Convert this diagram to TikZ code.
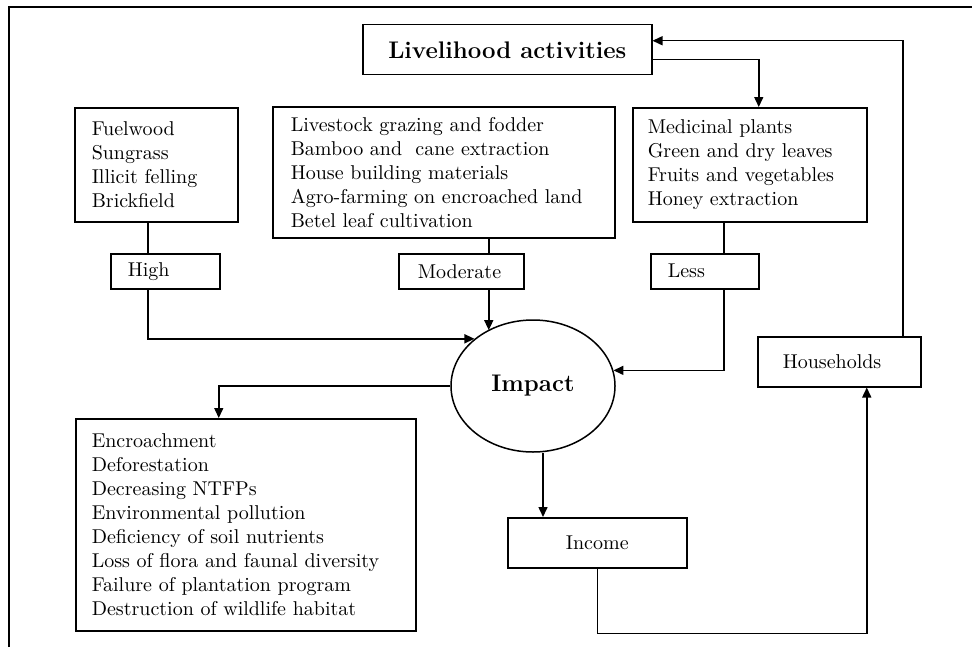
\documentclass[tikz,border=0pt]{standalone}
\usetikzlibrary{shapes.geometric,arrows.meta}

\tikzset{every picture/.style={line width=0.75pt}}
\tikzset{
  listbox/.style={draw, anchor=north west, align=left, inner ysep=0pt},
  tagbox/.style={draw, anchor=north west, align=left, inner ysep=0pt, minimum height=17.5pt},
  arr/.style={-{Triangle[length=5pt,width=4.5pt]}}
}

\begin{document}
\begin{tikzpicture}[x=0.5pt,y=0.5pt,yscale=-1]
\useasboundingbox (0,0) rectangle (972,647);

%Frame
\draw [line width=0.9pt] (9,647) -- (9,7) -- (972,7);

% Text Node
\node [draw, anchor=north west, minimum width=144.5pt, minimum height=25pt, inner sep=0pt, font=\large\bfseries] (live) at (362,24) {Livelihood activities};

% Boxes of activities
\node [listbox, inner xsep=8.5pt, text width=64.5pt, minimum height=57pt] (fuel) at (74,107) {Fuelwood\\Sungrass\\Illicit felling\\Brickfield};
\node [listbox, inner xsep=9pt, text width=153pt, minimum height=65.5pt] (graze) at (272,106) {Livestock grazing and fodder\\Bamboo and\ \ cane extraction\\House building materials\\Agro-farming on encroached land\\Betel leaf cultivation};
\node [listbox, inner xsep=7.5pt, text width=102pt, minimum height=57pt] (plants) at (632,107) {Medicinal plants\\Green and dry leaves\\Fruits and vegetables\\Honey extraction};

% Level boxes
\node [tagbox, inner xsep=8.5pt, text width=37.5pt] (high) at (110,253) {High};
\node [tagbox, inner xsep=9.5pt, text width=43.5pt] (moderate) at (398,253) {Moderate};
\node [tagbox, inner xsep=8.5pt, text width=37pt] (less) at (650,253) {Less};

%Shape: Ellipse
\node [ellipse, draw, minimum width=82pt, minimum height=66pt, inner sep=0pt, font=\large\bfseries] (impact) at (533,386) {Impact};

\node [tagbox, inner xsep=12.5pt, text width=56.5pt, minimum height=25pt] (house) at (757,336) {Households};
\node [draw, anchor=north west, minimum width=89.5pt, minimum height=25pt, inner sep=0pt] (income) at (507,517) {Income};
\node [listbox, inner xsep=8pt, text width=154pt, minimum height=106pt] (effects) at (75,418) {Encroachment\\Deforestation\\Decreasing NTFPs\\Environmental pollution\\Deficiency of soil nutrients\\Loss of flora and faunal diversity\\Failure of plantation program\\Destruction of wildlife habitat};

%Straight Lines
\draw [arr] ([yshift=5pt]live.east) -| ([xshift=4.5pt]plants.north);
\draw [arr] ([xshift=31.75pt]house.north) |- ([yshift=-4.5pt]live.east);

\draw ([xshift=-4.25pt]fuel.south) -- ([xshift=-4.25pt]fuel.south |- high.north);
\draw [arr] ([xshift=-4.25pt]fuel.south |- high.south) |- (impact.north west);

\draw ([xshift=13.75pt]moderate.north |- graze.south) -- ([xshift=13.75pt]moderate.north);
\draw [arr] ([xshift=13.75pt]moderate.south) -- ([xshift=13.75pt]moderate.south |- impact.129);

\draw ([xshift=9.5pt]less.north |- plants.south) -- ([xshift=9.5pt]less.north);
\draw [arr] ([xshift=9.5pt]less.south) |- (impact.11);

\draw [arr] (impact.west) -| ([xshift=-13.5pt]effects.north);
\draw [arr] ([xshift=5pt]impact.south) -- ([xshift=5pt]impact.south |- income.north);
\draw [arr] (income.south) -- ++(0,65) -| ([xshift=13.75pt]house.south);

\end{tikzpicture}
\end{document}
